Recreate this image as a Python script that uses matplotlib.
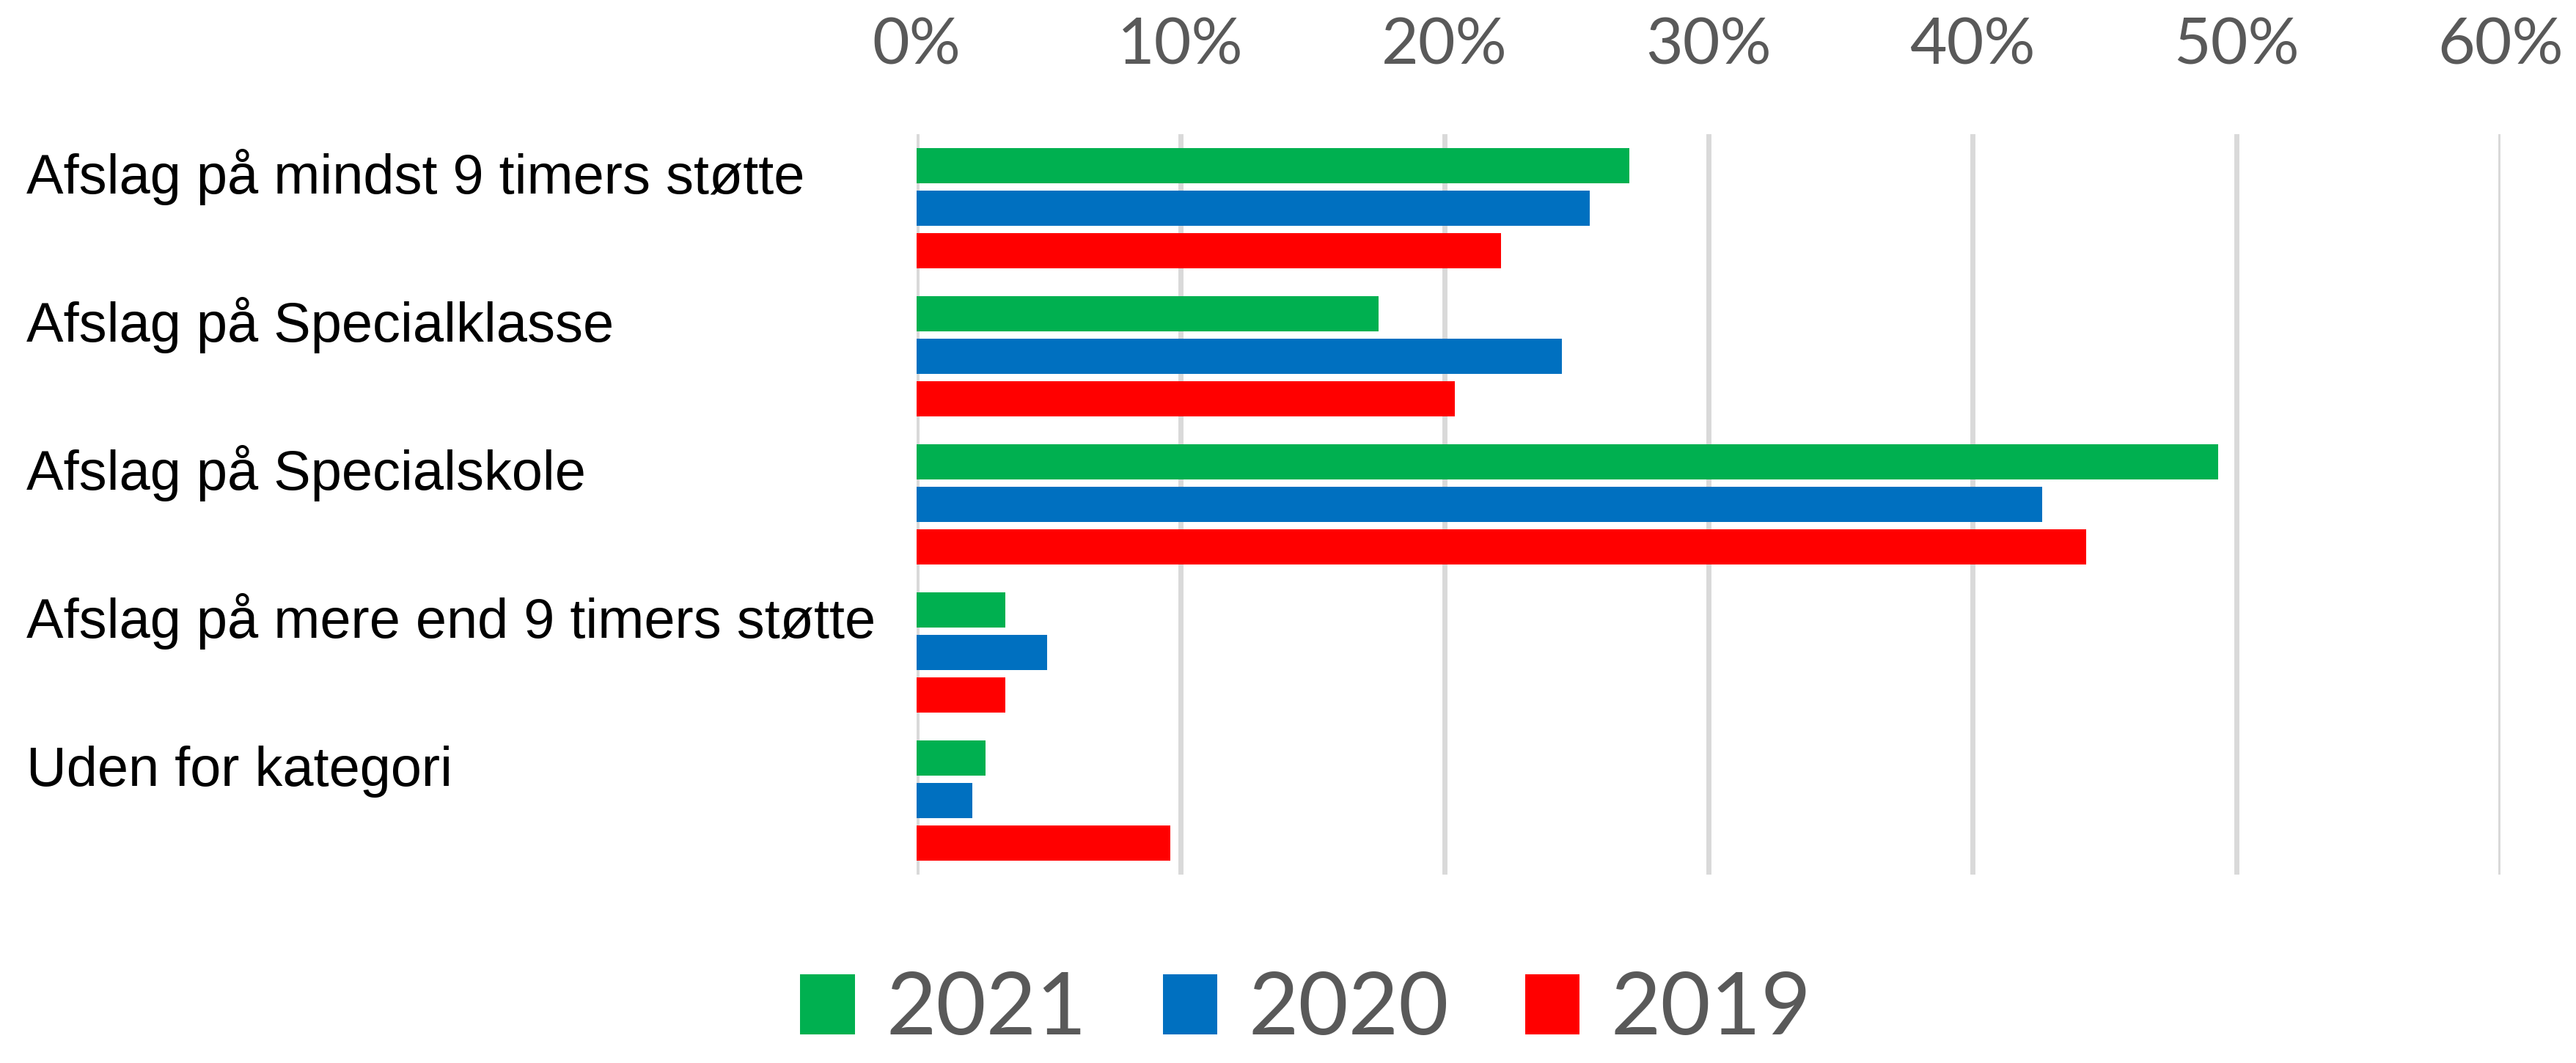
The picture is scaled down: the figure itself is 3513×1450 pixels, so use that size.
import matplotlib
matplotlib.use("Agg")
import matplotlib.pyplot as plt
import numpy as np
from matplotlib.patches import Patch
from matplotlib.transforms import blended_transform_factory

categories = [
    "Afslag på mindst 9 timers støtte",
    "Afslag på Specialklasse",
    "Afslag på Specialskole",
    "Afslag på mere end 9 timers støtte",
    "Uden for kategori",
]
years = ["2021", "2020", "2019"]
v2021 = [27.0, 17.5, 49.3, 3.35, 2.6]
v2020 = [25.5, 24.45, 42.65, 4.95, 2.1]
v2019 = [22.15, 20.4, 44.3, 3.35, 9.6]
colors = ["#00B050", "#0070C0", "#FF0000"]
xticks = [0, 10, 20, 30, 40, 50, 60]

fig = plt.figure(figsize=(35.13, 14.5), dpi=100)
ax = fig.add_axes([0.3558, 0.177, 0.9707 - 0.3558, 0.874 - 0.177])

y = np.arange(len(categories))
pitch = 0.287
height = 0.238
for k, (vals, c) in enumerate(zip([v2021, v2020, v2019], colors)):
    ax.barh(y + (k - 1) * pitch, vals, height=height, color=c, zorder=3)

ax.set_xlim(0, 60)
ax.set_ylim(len(categories) - 0.5, -0.5)
ax.set_xticks(xticks)
ax.set_xticklabels([f"{t}%" for t in xticks], fontsize=63, color="#595959",
                   family="Lato")
ax.xaxis.tick_top()
ax.tick_params(axis="x", length=0, pad=58)
ax.set_yticks([])
for s in ax.spines.values():
    s.set_visible(False)
ax.grid(axis="x", color="#d9d9d9", linewidth=5, zorder=0)
ax.axvline(0, color="#d9d9d9", linewidth=1.5, zorder=1)

# category labels sit left-aligned at the figure edge
tr = blended_transform_factory(fig.transFigure, ax.transData)
for i, name in enumerate(categories):
    ax.text(36 / 3513, i - 0.10, name, transform=tr, ha="left", va="baseline",
            fontsize=54.5, family="Liberation Sans", color="black")

handles = [Patch(facecolor=c, edgecolor="none") for c in colors]
fig.legend(handles, years, loc="center", bbox_to_anchor=(0.507, 0.05),
           ncol=3, frameon=False, labelcolor="#595959",
           prop={"family": "Lato", "size": 85},
           handlelength=0.63, handleheight=0.69, handletextpad=0.36,
           columnspacing=0.88, borderpad=0)

fig.savefig("out.png", dpi=100, facecolor="white")
